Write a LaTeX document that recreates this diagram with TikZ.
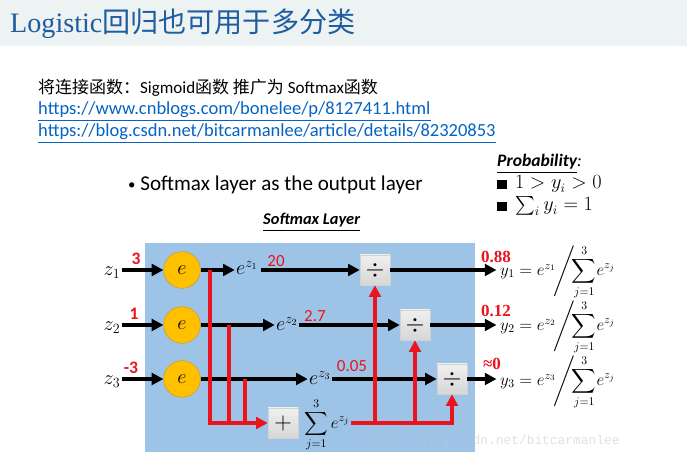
\documentclass[tikz,border=0pt]{standalone}
\usepackage{amsmath,amssymb}
\usepackage{fontspec}
\setmainfont{Carlito}
\newfontfamily\cjk{Noto Sans CJK SC}
\newfontfamily\titlefont{Liberation Serif}
\newfontfamily\markfont{Liberation Mono}
\usepackage{tikz}
\usetikzlibrary{arrows.meta,positioning,calc,shadings}
\usepackage{xcolor}
\definecolor{bandgray}{RGB}{237,242,243}
\definecolor{titleblue}{RGB}{31,92,160}
\definecolor{linkblue}{RGB}{5,99,193}
\definecolor{layerblue}{RGB}{157,195,230}
\definecolor{expfill}{RGB}{255,192,0}
\definecolor{expedge}{RGB}{205,150,40}
\definecolor{hotred}{RGB}{235,20,30}
\newcommand{\softout}[1]{$y_{#1} = e^{z_{#1}}\!\Bigg/\!\!\displaystyle\sum_{j=1}^{3}\! e^{z_j}$}

\begin{document}
\begin{tikzpicture}[
    x=0.03cm, y=-0.03cm,
    txt/.style={anchor=base west, inner sep=0pt},
    expnode/.style={circle, draw=expedge, fill=expfill, minimum size=1.1cm,
        inner sep=0pt, font=\fontsize{17}{17}\selectfont},
    opbox/.style={rectangle, draw=gray!35, top color=gray!12, bottom color=gray!32,
        minimum size=0.9cm, inner sep=0pt, font=\fontsize{20}{20}\selectfont},
    mathlbl/.style={inner sep=1pt, font=\fontsize{17}{17}\selectfont},
    rednum/.style={inner sep=0pt, text=hotred, font=\fontsize{14.5}{14}\selectfont},
    outnum/.style={inner sep=0pt, text=hotred, font=\titlefont\bfseries\fontsize{14.5}{14}\selectfont},
    formula/.style={inner sep=0pt, anchor=west, font=\fontsize{14.5}{14.5}\selectfont},
    arrow/.style={-{Triangle[length=10pt,width=10pt]}, line width=2.6pt},
    redline/.style={draw=hotred, line width=2.6pt},
    redarrow/.style={redline, -{Triangle[length=10pt,width=10pt]}},
]
\useasboundingbox (0,0) rectangle (687,458);

% header band and text
\fill[bandgray] (0,0) rectangle (687,46);
\node[txt, text=titleblue, font=\fontsize{24}{24}\selectfont] (title) at (10,33)
    {{\titlefont Logistic}{\cjk 回归也可用于多分类}};
\node[txt, font=\fontsize{14.5}{16}\selectfont] (intro) at (38,94)
    {{\cjk 将连接函数：}Sigmoid{\cjk 函数 推广为} Softmax{\cjk 函数}};
\node[txt, text=linkblue, font=\fontsize{15.8}{16}\selectfont] (link1) at (38,115)
    {\underline{https://www.cnblogs.com/bonelee/p/8127411.html}};
\node[txt, text=linkblue, font=\fontsize{15.8}{16}\selectfont] (link2) at (38,137)
    {\underline{https://blog.csdn.net/bitcarmanlee/article/details/82320853}};

\node[txt, font=\fontsize{18}{18}\selectfont] (bullet) at (128,191)
    {\raisebox{1.5pt}{\scalebox{0.7}{\textbullet}}\ Softmax layer as the output layer};
\node[txt, font=\bfseries\itshape\fontsize{14}{14}\selectfont] (layername) at (263,225)
    {\underline{Softmax Layer}};
\node[txt, font=\bfseries\itshape\fontsize{15}{15}\selectfont] (prob) at (497,167)
    {\underline{Probability}\textmd{:}};
\node[txt, font=\fontsize{16}{16}\selectfont] (cond1) at (497,189)
    {\rule{8pt}{8pt}\ \ $1 > y_i > 0$};
\node[txt, font=\fontsize{16}{16}\selectfont] (cond2) at (497,211)
    {\rule{8pt}{8pt}\ \ $\textstyle\sum_i y_i = 1$};

% softmax layer
\fill[layerblue] (145,243) rectangle (475,452);
\node[inner sep=0pt, text=black!12, font=\markfont\fontsize{11}{11}\selectfont] (mark) at (492,441)
    {http://blog.csdn.net/bitcarmanlee};
\fill[layerblue, opacity=0.85] (145,432) rectangle (475,452);

\node[mathlbl] (z1) at (112,273) {$z_1$};
\node[mathlbl] (z2) at (112,328) {$z_2$};
\node[mathlbl] (z3) at (112,382) {$z_3$};
\node[expnode] (c1) at (182,270) {$e$};
\node[expnode] (c2) at (182,325) {$e$};
\node[expnode] (c3) at (182,379) {$e$};
\node[rednum, font=\bfseries\fontsize{15}{15}\selectfont] (n1) at (136,259) {3};
\node[rednum, font=\bfseries\fontsize{15}{15}\selectfont] (n2) at (134,314) {1};
\node[rednum, font=\bfseries\fontsize{15}{15}\selectfont] (n3) at (131,368) {-3};

\node[mathlbl] (ez1) at (247,268) {$e^{z_1}$};
\node[mathlbl] (ez2) at (287,324) {$e^{z_2}$};
\node[mathlbl] (ez3) at (320,378) {$e^{z_3}$};
\node[rednum] (v1) at (276,261) {20};
\node[rednum] (v2) at (315,316) {2.7};
\node[rednum] (v3) at (352,366) {0.05};

\node[opbox] (d1) at (375,270) {$\div$};
\node[opbox] (d2) at (415,325) {$\div$};
\node[opbox] (d3) at (452,379) {$\div$};
\node[opbox] (plus) at (283,423) {$+$};
\node[mathlbl, font=\fontsize{14}{14}\selectfont] (sumexp) at (327,425)
    {$\displaystyle\sum_{j=1}^{3} e^{z_j}$};

\node[formula] (y1) at (500,272) {\softout{1}};
\node[formula] (y2) at (500,327) {\softout{2}};
\node[formula] (y3) at (500,382) {\softout{3}};
\node[outnum] (p1) at (496,257) {0.88};
\node[outnum] (p2) at (496,311) {0.12};
\node[outnum] (p3) at (492,364) {≈0};

% taps on the exp outputs
\coordinate (t1) at (210,270);
\coordinate (t2) at (229,325);
\coordinate (t3) at (245,379);

\draw[arrow] (z1.east |- c1) -- (c1);
\draw[arrow] (z2.east |- c2) -- (c2);
\draw[arrow] (z3.east |- c3) -- (c3);
\draw[arrow] (c1) -- (ez1.west |- c1);
\draw[arrow] (c2) -- (ez2.west |- c2);
\draw[arrow] (c3) -- (ez3.west |- c3);
\draw[arrow] (ez1.east |- d1) ++(2,0) -- (d1);
\draw[arrow] (ez2.east |- d2) -- (d2);
\draw[arrow] (ez3.east |- d3) -- (d3);
\draw[arrow] (d1) -- ([xshift=-3pt]y1.west |- d1);
\draw[arrow] (d2) -- ([xshift=-3pt]y2.west |- d2);
\draw[arrow] (d3) -- ([xshift=-3pt]y3.west |- d3);

\draw[redarrow] (t1) |- (plus);
\draw[redline] (t2) -- (t2 |- plus);
\draw[redline] (t3) -- (t3 |- plus);
\draw[redarrow] (sumexp.east |- plus) -| (d3);
\draw[redarrow] (d1 |- plus) -- (d1);
\draw[redarrow] (d2 |- plus) -- (d2);
\end{tikzpicture}
\end{document}
